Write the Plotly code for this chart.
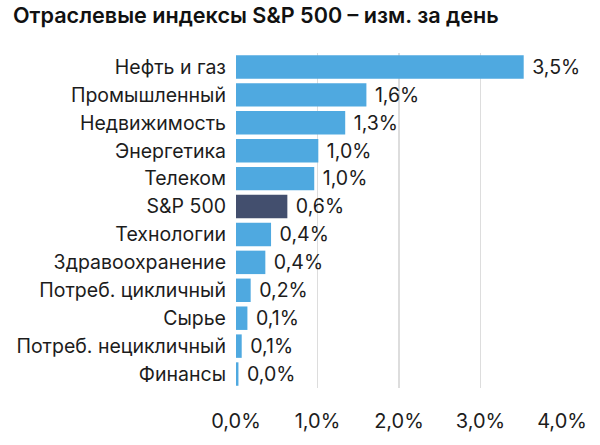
import plotly.graph_objects as go

categories = ["Нефть и газ", "Промышленный", "Недвижимость", "Энергетика", "Телеком",
              "S&P 500", "Технологии", "Здравоохранение", "Потреб. цикличный", "Сырье",
              "Потреб. нецикличный", "Финансы"]
values = [3.53, 1.60, 1.34, 1.01, 0.96, 0.63, 0.43, 0.36, 0.18, 0.14, 0.07, 0.03]
x_ticks = [0, 1, 2, 3, 4]
x_tick_labels = ["0,0%", "1,0%", "2,0%", "3,0%", "4,0%"]

LIGHT = "#4FA9E0"
DARK = "#434F6E"
colors = [DARK if c == "S&P 500" else LIGHT for c in categories]

FONT = "Inter"
TXT = "#1c1c1c"

fig = go.Figure(go.Bar(
    x=values, y=categories, orientation="h",
    marker=dict(color=colors, line=dict(width=0)),
    texttemplate="\u00a0%{x:.1f}%", textposition="outside",
    textfont=dict(family=FONT, size=20, color=TXT),
    cliponaxis=False, hoverinfo="skip",
))

fig.update_layout(
    width=600, height=445,
    margin=dict(l=236, r=38, t=53, b=48),
    paper_bgcolor="white", plot_bgcolor="white",
    separators=", ",
    bargap=0.16,
    showlegend=False,
    title=dict(text="Отраслевые индексы S&P 500 – изм. за день",
               font=dict(family=FONT, size=21.6, color="#111111", weight=600),
               x=13/600, xanchor="left", xref="container",
               y=1 - 15/445, yanchor="middle", yref="container"),
    xaxis=dict(range=[0, 4], tickvals=x_ticks, ticktext=x_tick_labels,
               showgrid=True, gridcolor="#DDDDDD", gridwidth=1.5,
               zeroline=False, showline=False, ticks="",
               ticklabelstandoff=19,
               tickfont=dict(family=FONT, size=20, color=TXT)),
    yaxis=dict(autorange="reversed", showgrid=False, zeroline=False,
               showline=False, ticks="", ticklabelstandoff=9,
               tickfont=dict(family=FONT, size=19.5, color=TXT)),
)

fig.write_html("out.html", config={"displayModeBar": False, "staticPlot": True},
               post_script="document.body.style.margin='0';")
